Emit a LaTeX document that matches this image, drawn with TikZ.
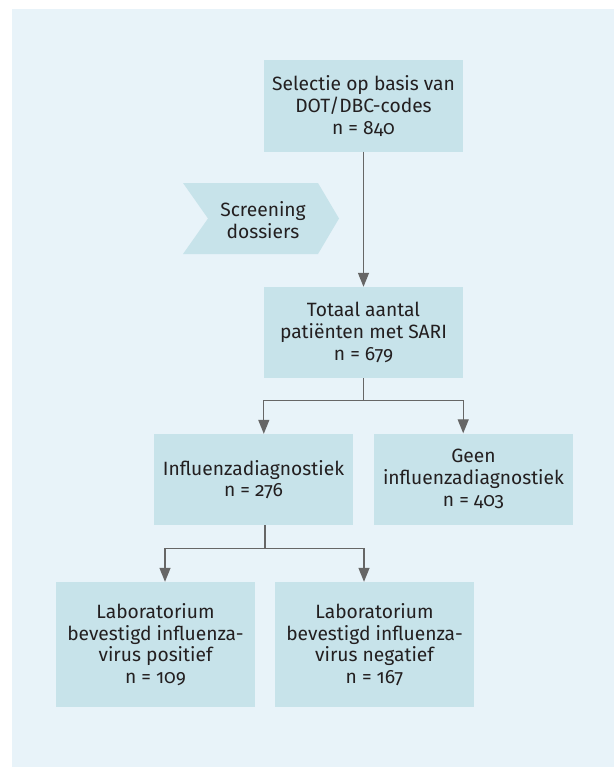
\documentclass[tikz,border=0pt]{standalone}
\usepackage{fontspec}
\setmainfont[Numbers=OldStyle]{Fira Sans}
\usetikzlibrary{arrows.meta,calc}

\definecolor{panelbg}{HTML}{E8F3F9}
\definecolor{boxbg}{HTML}{C7E3EA}
\definecolor{linegray}{HTML}{666666}
\definecolor{textdark}{HTML}{231F20}

\tikzset{
  flowfont/.style={font=\fontsize{19.3}{21.8}\selectfont},
  flowbox/.style={fill=boxbg, draw=none, minimum width=199bp, minimum height=91bp,
    inner sep=0pt, align=center, text=textdark, flowfont},
  tallbox/.style={flowbox, minimum height=125bp},
  flowarrow/.style={draw=linegray, line width=1.3bp,
    -{Triangle[length=14bp,width=11bp]}},
  flowline/.style={draw=linegray, line width=1.3bp},
}

\begin{document}
\begin{tikzpicture}[x=1bp,y=-1bp]
  % page and panel
  \useasboundingbox (0,0) rectangle (614,767);
  \fill[panelbg] (12,9) rectangle (614,767);

  % boxes
  \node[flowbox] (sel) at (363.5,106) {Selectie op basis van\\DOT/DBC-codes\\n = 840};
  \node[flowbox] (tot) at (363.5,332.5) {Totaal aantal\\patiënten met SARI\\n = 679};
  \node[flowbox] (diag) at (253.5,479.5) {Influenzadiagnostiek\\n = 276};
  \node[flowbox] (geen) at (473.5,479) {Geen\\influenzadiagnostiek\\n = 403};
  \node[tallbox] (pos) at (155.5,644.5) {Laboratorium\\bevestigd influenza-\\virus positief\\n = 109};
  \node[tallbox] (neg) at (374.5,644.5) {Laboratorium\\bevestigd influenza-\\virus negatief\\n = 167};

  % screening step (chevron)
  \fill[boxbg] (183,183) -- (318,183) -- (339,218.5) -- (318,254) -- (183,254) -- (208,218.5) -- cycle;
  \node[align=center, text=textdark, flowfont] (scr) at (263,220) {Screening\\dossiers};

  % connectors
  \draw[flowarrow] (sel.south) -- (tot.north);

  \coordinate (j1) at ($(tot.south)+(0,22)$);
  \draw[flowline] (tot.south) -- (j1);
  \draw[flowarrow] (j1) -| (tot.west |- diag.north);
  \draw[flowarrow] (j1) -| (tot.east |- geen.north);

  \coordinate (d0) at ($(diag.south)+(11.5,0)$);
  \coordinate (j2) at ($(d0)+(0,23)$);
  \draw[flowline] (d0) -- (j2);
  \draw[flowarrow] (j2) -| ($(pos.north)+(9.5,0)$);
  \draw[flowarrow] (j2) -| ($(neg.north)+(-10.5,0)$);
\end{tikzpicture}
\end{document}
